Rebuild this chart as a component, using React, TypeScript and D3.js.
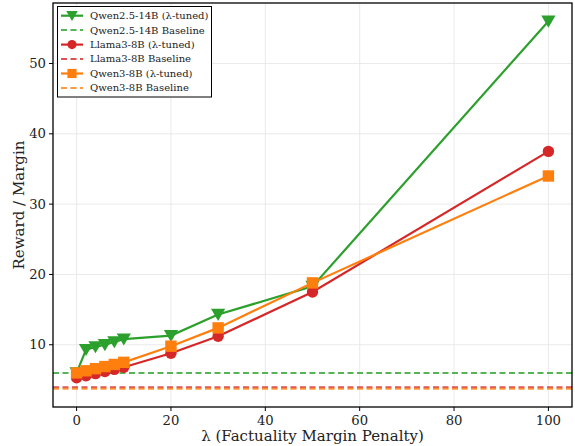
import React from "react";
import * as d3 from "d3";

const lambdas = [0, 2, 4, 6, 8, 10, 20, 30, 50, 100];
const qwen14Tuned = [6.0, 9.3, 9.7, 10.0, 10.4, 10.8, 11.3, 14.3, 18.3, 56.0];
const llamaTuned = [5.3, 5.6, 5.9, 6.2, 6.5, 6.8, 8.8, 11.2, 17.5, 37.5];
const qwen3Tuned = [6.0, 6.3, 6.6, 6.9, 7.2, 7.5, 9.8, 12.4, 18.8, 34.0];
const qwen14Baseline = 6.0;
const llamaBaseline = 3.95;
const qwen3Baseline = 3.75;
const xTicks = [0, 20, 40, 60, 80, 100];
const yTicks = [10, 20, 30, 40, 50];

const W = 575, H = 446;
const M = { left: 53, right: 572, top: 3, bottom: 407 };
const FONT = "DejaVu Serif";

type Marker = "tri" | "circle" | "square";
const series = [
  { name: "Qwen2.5-14B (λ-tuned)", base: "Qwen2.5-14B Baseline", vals: qwen14Tuned, baseVal: qwen14Baseline, color: "#2ca02c", marker: "tri" as Marker },
  { name: "Llama3-8B (λ-tuned)", base: "Llama3-8B Baseline", vals: llamaTuned, baseVal: llamaBaseline, color: "#d62728", marker: "circle" as Marker },
  { name: "Qwen3-8B (λ-tuned)", base: "Qwen3-8B Baseline", vals: qwen3Tuned, baseVal: qwen3Baseline, color: "#ff7f0e", marker: "square" as Marker },
];

function MarkerShape({ type, x, y, color, r = 5.7 }: { type: Marker; x: number; y: number; color: string; r?: number }) {
  if (type === "circle") return <circle cx={x} cy={y} r={r} fill={color} />;
  if (type === "square") return <rect x={x - r} y={y - r} width={2 * r} height={2 * r} fill={color} />;
  const s = r * 1.25;
  return <path d={`M${x - s},${y - s * 0.8}L${x + s},${y - s * 0.8}L${x},${y + s * 0.9}Z`} fill={color} />;
}

export default function App() {
  const x = d3.scaleLinear().domain([-5, 105]).range([M.left, M.right]);
  const y = d3.scaleLinear().domain([1.15, 58.6]).range([M.bottom, M.top]);
  const line = d3.line<number>().x((_, i) => x(lambdas[i])).y((d) => y(d));

  return (
    <svg width={W} height={H} style={{ position: "absolute", left: 0, top: 0, background: "#fff" }} fontFamily={FONT}>
      <defs>
        <clipPath id="plot">
          <rect x={M.left} y={M.top} width={M.right - M.left} height={M.bottom - M.top} />
        </clipPath>
      </defs>
      {xTicks.map((t) => (
        <line key={"gx" + t} x1={x(t)} x2={x(t)} y1={M.top} y2={M.bottom} stroke="#e5e5e5" strokeWidth={0.8} />
      ))}
      {yTicks.map((t) => (
        <line key={"gy" + t} x1={M.left} x2={M.right} y1={y(t)} y2={y(t)} stroke="#e5e5e5" strokeWidth={0.8} />
      ))}
      <g clipPath="url(#plot)">
        {series.map((s) => (
          <line key={"b" + s.name} x1={M.left} x2={M.right} y1={y(s.baseVal)} y2={y(s.baseVal)} stroke={s.color} strokeOpacity={0.8} strokeWidth={2} strokeDasharray="6,3.5" />
        ))}
        {series.map((s) => (
          <g key={s.name}>
            <path d={line(s.vals) || ""} fill="none" stroke={s.color} strokeWidth={2.2} />
            {s.vals.map((v, i) => (
              <MarkerShape key={i} type={s.marker} x={x(lambdas[i])} y={y(v)} color={s.color} />
            ))}
          </g>
        ))}
      </g>
      <rect x={M.left} y={M.top} width={M.right - M.left} height={M.bottom - M.top} fill="none" stroke="#000" strokeWidth={1.3} />
      {xTicks.map((t) => (
        <g key={"tx" + t}>
          <line x1={x(t)} x2={x(t)} y1={M.bottom} y2={M.bottom + 4} stroke="#000" strokeWidth={1} />
          <text x={x(t)} y={M.bottom + 18} textAnchor="middle" fontSize={13.2} fill="#222">{t}</text>
        </g>
      ))}
      {yTicks.map((t) => (
        <g key={"ty" + t}>
          <line x1={M.left - 4} x2={M.left} y1={y(t)} y2={y(t)} stroke="#000" strokeWidth={1} />
          <text x={M.left - 7} y={y(t) + 4.7} textAnchor="end" fontSize={13.2} fill="#222">{t}</text>
        </g>
      ))}
      <text x={(M.left + M.right) / 2} y={441} textAnchor="middle" fontSize={15} fill="#222">λ (Factuality Margin Penalty)</text>
      <text transform={`translate(24,${(M.top + M.bottom) / 2}) rotate(-90)`} textAnchor="middle" fontSize={15} fill="#222">Reward / Margin</text>
      <g>
        <rect x={57.5} y={6.5} width={154} height={90.5} fill="#fff" stroke="#000" strokeWidth={1} />
        {series.flatMap((s, k) => {
          const y1 = 15.7 + k * 28.9;
          const y2 = y1 + 14.4;
          return [
            <g key={"l1" + k}>
              <line x1={61} x2={83} y1={y1} y2={y1} stroke={s.color} strokeWidth={2.2} />
              <MarkerShape type={s.marker} x={72} y={y1} color={s.color} r={4.6} />
              <text x={90} y={y1 + 3.4} fontSize={10} fill="#222">{s.name}</text>
            </g>,
            <g key={"l2" + k}>
              <line x1={61} x2={83} y1={y2} y2={y2} stroke={s.color} strokeOpacity={0.8} strokeWidth={2} strokeDasharray="6,3.5" />
              <text x={90} y={y2 + 3.4} fontSize={10} fill="#222">{s.base}</text>
            </g>,
          ];
        })}
      </g>
    </svg>
  );
}
